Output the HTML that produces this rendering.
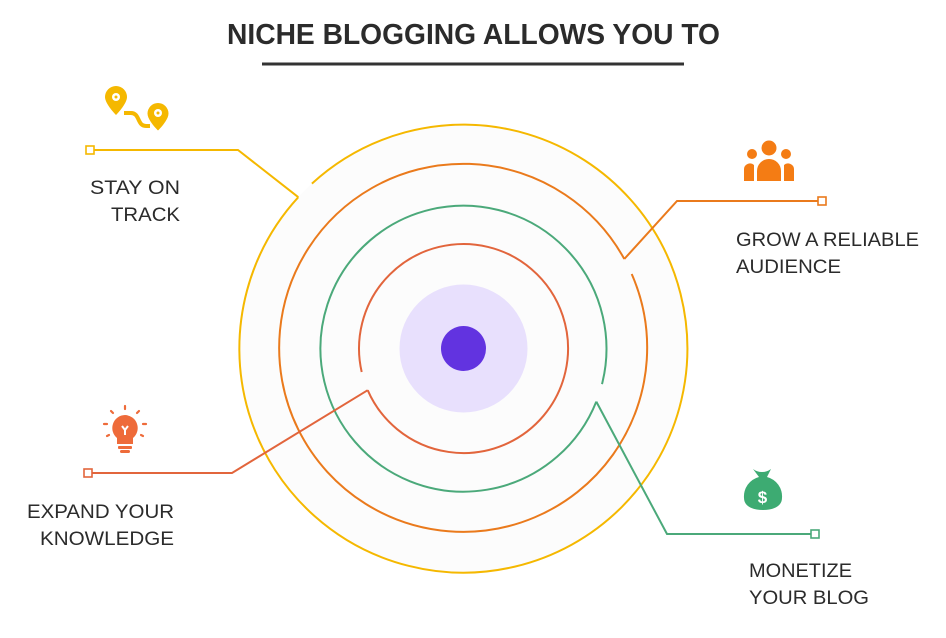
<!DOCTYPE html>
<html><head><meta charset="utf-8"><style>
html,body{margin:0;padding:0;background:#fff;}
svg{display:block;}
text{font-family:"Liberation Sans",Arial,sans-serif;fill:#2b2b2b;}
</style></head><body>
<svg width="946" height="638" viewBox="0 0 946 638" xmlns="http://www.w3.org/2000/svg">
<rect width="946" height="638" fill="#fff"/>
<text x="227" y="44" font-size="29" font-weight="bold" textLength="493" lengthAdjust="spacingAndGlyphs" fill="#333">NICHE BLOGGING ALLOWS YOU TO</text>
<rect x="262" y="62.5" width="422" height="3" fill="#333"/>

<circle cx="463.5" cy="348.5" r="224" fill="#fcfcfc"/>
<circle cx="463.5" cy="348.5" r="64" fill="#e8e0fd"/>
<circle cx="463.5" cy="348.5" r="22.5" fill="#6233e0"/>

<g fill="none" stroke-width="2">
<path d="M311.9 183.6 A224 224 0 1 1 298.3 197.2" stroke="#f5b800"/>
<path d="M90 150 H238 L298.3 197.2" stroke="#f5b800"/>
<path d="M631.7 274 A184 184 0 1 1 624.3 259" stroke="#ea7a1c"/>
<path d="M624.3 259 L677 201 H822" stroke="#ea7a1c"/>
<path d="M596.3 401.6 A143 143 0 1 1 602 384.1" stroke="#4ba97a"/>
<path d="M596.3 401.6 L667 534 H815" stroke="#4ba97a"/>
<path d="M361.7 372 A104.5 104.5 0 1 1 367.7 390.2" stroke="#e2653c"/>
<path d="M367.7 390.2 L232 473 H88" stroke="#e2653c"/>
</g>
<g fill="#fff" stroke-width="1.6">
<rect x="86" y="146" width="8" height="8" stroke="#f5b800"/>
<rect x="818" y="197" width="8" height="8" stroke="#ea7a1c"/>
<rect x="811" y="530" width="8" height="8" stroke="#4ba97a"/>
<rect x="84" y="469" width="8" height="8" stroke="#e2653c"/>
</g>

<!-- map pins icon -->
<g fill="#f5b800">
<path d="M116 86 a11 11 0 0 1 11 11 c0 7 -11 18 -11 18 c0 0 -11 -11 -11 -18 a11 11 0 0 1 11 -11z"/>
<path d="M158 103 a10.5 10.5 0 0 1 10.5 10.5 c0 7 -10.5 17 -10.5 17 c0 0 -10.5 -10 -10.5 -17 a10.5 10.5 0 0 1 10.5 -10.5z"/>
</g>
<circle cx="116" cy="97" r="4" fill="#fff"/><circle cx="116" cy="97" r="1.5" fill="#f5b800"/>
<circle cx="158" cy="113" r="4" fill="#fff"/><circle cx="158" cy="113" r="1.5" fill="#f5b800"/>
<path d="M124 113 H131 C140 113 137 126 146 126 H150" fill="none" stroke="#f5b800" stroke-width="4"/>

<!-- people icon -->
<g fill="#f47c14">
<circle cx="769" cy="148" r="7.5"/>
<circle cx="752" cy="154" r="5"/>
<circle cx="786" cy="154" r="5"/>
<path d="M757 181 v-10 a12 12 0 0 1 24 0 v10z"/>
<path d="M744 181 v-12 a6 6 0 0 1 10 -4 v16z"/>
<path d="M794 181 v-12 a6 6 0 0 0 -10 -4 v16z"/>
</g>

<!-- bulb icon -->
<g fill="#ee6b3a">
<path d="M125 415 a13 13 0 0 1 8 23 v6 h-16 v-6 a13 13 0 0 1 8 -23z"/>
<rect x="118" y="446" width="14" height="3" rx="1"/>
<rect x="120" y="450" width="10" height="3" rx="1.5"/>
<g stroke="#ee6b3a" stroke-width="2.2" stroke-linecap="round">
<path d="M125 406 v3"/><path d="M111 411 l2 2"/><path d="M139 411 l-2 2"/>
<path d="M104 424 h3"/><path d="M143 424 h3"/><path d="M107 436 l2 -1"/><path d="M143 436 l-2 -1"/>
</g>
</g>
<path d="M122 426 l3 4 l3 -4 M125 430 v5" stroke="#fff" stroke-width="2" fill="none"/>

<!-- money bag -->
<path d="M753 469 q4 3 9 3 q5 0 9 -3 l-4 8 a20 20 0 0 1 15 21 c0 8 -8 12 -19 12 c-11 0 -19 -4 -19 -12 a20 20 0 0 1 15 -21z" fill="#3dab72"/>
<text x="762.5" y="503" font-size="17" font-weight="bold" text-anchor="middle" style="fill:#fff">$</text>

<g font-size="19">
<text x="90" y="194" textLength="90" lengthAdjust="spacingAndGlyphs">STAY ON</text>
<text x="111" y="221" textLength="69" lengthAdjust="spacingAndGlyphs">TRACK</text>
<text x="736" y="246" textLength="183" lengthAdjust="spacingAndGlyphs">GROW A RELIABLE</text>
<text x="736" y="273" textLength="105" lengthAdjust="spacingAndGlyphs">AUDIENCE</text>
<text x="27" y="518" textLength="147" lengthAdjust="spacingAndGlyphs">EXPAND YOUR</text>
<text x="40" y="545" textLength="134" lengthAdjust="spacingAndGlyphs">KNOWLEDGE</text>
<text x="749" y="577" textLength="103" lengthAdjust="spacingAndGlyphs">MONETIZE</text>
<text x="749" y="604" textLength="120" lengthAdjust="spacingAndGlyphs">YOUR BLOG</text>
</g>
</svg>
</body></html>
